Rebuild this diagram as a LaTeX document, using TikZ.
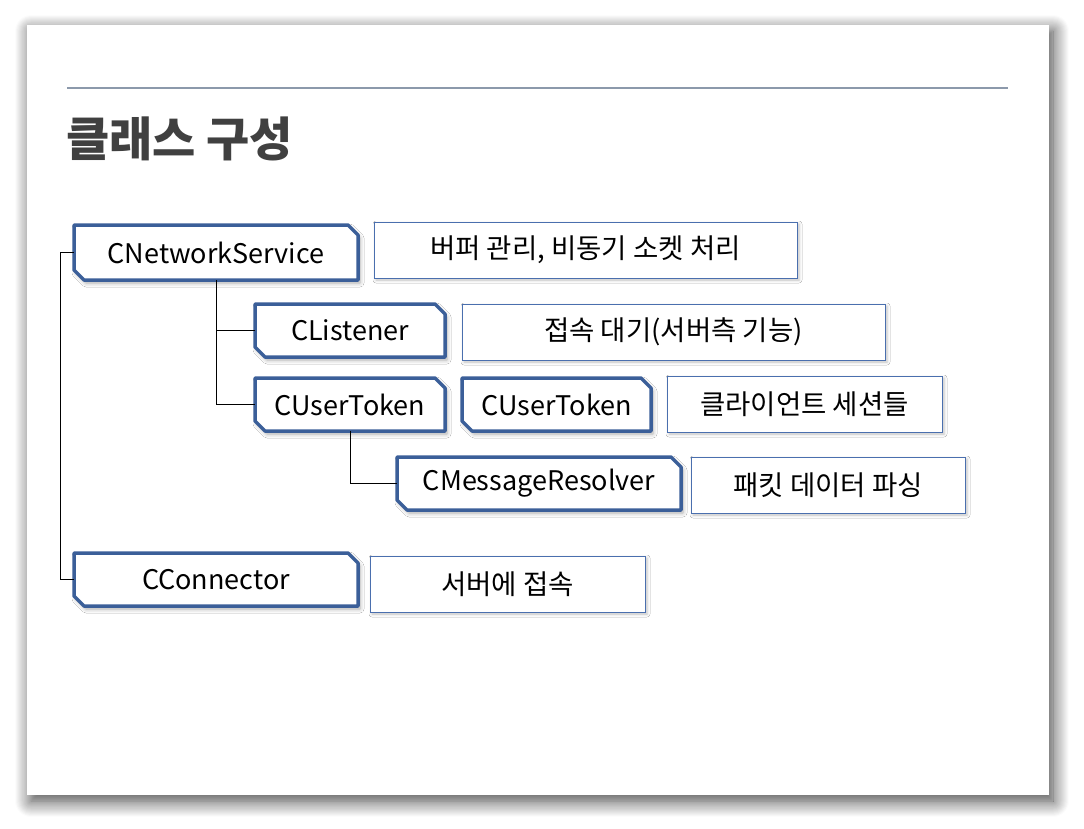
\documentclass[tikz,border=0pt]{standalone}
\usepackage{fontspec}
\setmainfont{Noto Sans CJK KR}
\usetikzlibrary{shadows.blur}
\definecolor{nodeblue}{HTML}{3B5F99}
\definecolor{descblue}{HTML}{4A6FAE}
\definecolor{rulegray}{HTML}{8C99AB}
\definecolor{titlegray}{HTML}{404040}
\tikzset{
  cls/.style={rectangle, draw=none, inner sep=0pt,
    font=\fontsize{27}{32}\selectfont},
  snip/.style={draw=nodeblue, line width=3.5pt, line join=round, fill=white,
    blur shadow={shadow xshift=2pt, shadow yshift=-3pt, shadow blur radius=4pt, shadow opacity=35}},
  desc/.style={rectangle, draw=descblue, line width=1pt, fill=white, inner sep=0pt,
    font=\fontsize{27.5}{32}\selectfont,
    blur shadow={shadow xshift=2pt, shadow yshift=-2pt, shadow blur radius=3pt, shadow opacity=25}},
  conn/.style={draw=black, line width=0.9pt},
}
% \clsnode{name}{cx}{cy}{w}{h}{text}
\newcommand\clsnode[6]{%
  \pgfmathsetmacro\xl{#2-#4/2}\pgfmathsetmacro\xr{#2+#4/2}%
  \pgfmathsetmacro\yt{#3-#5/2}\pgfmathsetmacro\yb{#3+#5/2}%
  \path[snip] (\xl,\yt) -- (\xr-10,\yt) -- (\xr,\yt+10) -- (\xr,\yb)
    -- (\xl+10,\yb) -- (\xl,\yb-10) -- cycle;
  \node[cls, minimum width=#4pt, minimum height=#5pt] (#1) at (#2,#3) {#6};}
\begin{document}
\begin{tikzpicture}[x=1pt,y=-1pt]
\useasboundingbox (0,0) rectangle (1084,828);
% slide
\path[fill=white, blur shadow={shadow xshift=4pt, shadow yshift=-6pt, shadow blur radius=16pt, shadow blur steps=16, shadow opacity=75}]
  (27,25) rectangle (1049,795);
\draw[rulegray, line width=2pt] (67,88) -- (1008,88);
\node[anchor=west, text=titlegray, font=\fontsize{47}{54}\selectfont\bfseries, inner sep=0pt] (title) at (66,139) {클래스 구성};

% class nodes
\clsnode{net}{216}{252.5}{284}{55}{CNetworkService}
\clsnode{lis}{350}{330.5}{190}{53}{CListener}
\clsnode{tok1}{350}{404.5}{190}{53}{CUserToken}
\clsnode{tok2}{556.5}{404.5}{189}{53}{CUserToken}
\clsnode{msg}{539}{483.5}{284}{53}{CMessageResolver}
\clsnode{con}{216}{579.5}{284}{53}{CConnector}

% description boxes
\node[desc, minimum width=423pt, minimum height=56pt] (d1) at (585.5,250) {버퍼 관리, 비동기 소켓 처리};
\node[desc, minimum width=423pt, minimum height=56pt] (d2) at (673.5,332) {접속 대기(서버측 기능)};
\node[desc, minimum width=275pt, minimum height=56pt] (d3) at (804.5,404) {클라이언트 세션들};
\node[desc, minimum width=274pt, minimum height=56pt] (d4) at (828,485) {패킷 데이터 파싱};
\node[desc, minimum width=275pt, minimum height=56pt] (d5) at (507.5,584) {서버에 접속};

% connectors
\coordinate (trunk) at ([xshift=-13pt]net.west);
\draw[conn] (net.west) -- (trunk) |- (con.west);
\draw[conn] (net.south) |- (lis.west);
\draw[conn] (net.south) |- (tok1.west);
\draw[conn] (tok1.south) |- (msg.west);
\end{tikzpicture}
\end{document}
